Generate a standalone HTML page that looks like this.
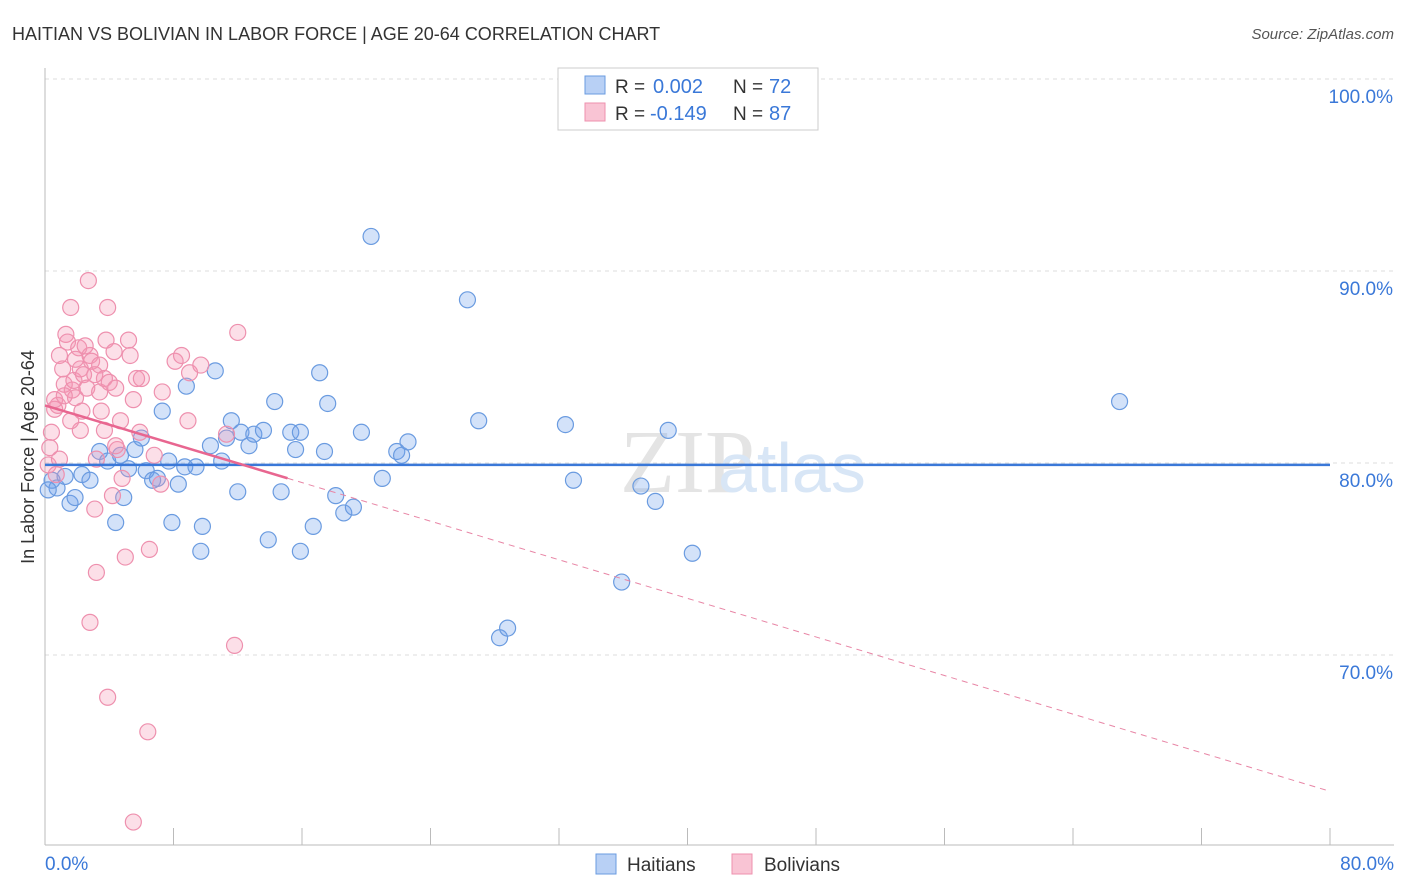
<!DOCTYPE html>
<html><head><meta charset="utf-8"><style>
body{margin:0;background:#fff;font-family:"Liberation Sans",sans-serif;}
svg{display:block}
</style></head><body>
<svg width="1406" height="892">
<text x="12" y="40" font-size="18" fill="#333">HAITIAN VS BOLIVIAN IN LABOR FORCE | AGE 20-64 CORRELATION CHART</text>
<text x="1394" y="39" font-size="15" fill="#555" font-style="italic" text-anchor="end">Source: ZipAtlas.com</text>
<text x="620" y="492" font-size="90" fill="#e4e4e4" font-family="Liberation Serif,serif">ZIP</text>
<text x="718" y="492" font-size="70" fill="#d8e6f6">atlas</text>
<g id="grid"></g>
<g id="axes"></g>
<g id="marks"></g>
<text transform="translate(34,457) rotate(-90)" font-size="18" fill="#333" text-anchor="middle">In Labor Force | Age 20-64</text>
<g>
<rect x="558" y="68" width="260" height="62" fill="#fff" stroke="#ccc"/>
<rect x="585" y="76" width="20" height="18" fill="#b8d0f5" stroke="#6a9be0"/>
<rect x="585" y="103" width="20" height="18" fill="#f9c4d4" stroke="#ee90ae"/>
<text x="615" y="93" font-size="19" fill="#333">R =</text>
<text x="653" y="93" font-size="20" fill="#3a78d8">0.002</text>
<text x="733" y="93" font-size="19" fill="#333">N =</text>
<text x="769" y="93" font-size="20" fill="#3a78d8">72</text>
<text x="615" y="120" font-size="19" fill="#333">R =</text>
<text x="650" y="120" font-size="20" fill="#3a78d8">-0.149</text>
<text x="733" y="120" font-size="19" fill="#333">N =</text>
<text x="769" y="120" font-size="20" fill="#3a78d8">87</text>
</g>
<g>
<rect x="596" y="854" width="20" height="20" fill="#b8d0f5" stroke="#6a9be0"/>
<text x="627" y="871" font-size="19" fill="#333">Haitians</text>
<rect x="732" y="854" width="20" height="20" fill="#f9c4d4" stroke="#ee90ae"/>
<text x="764" y="871" font-size="19" fill="#333">Bolivians</text>
</g>
</svg>
<script>
const xTicks=[0,8,16,24,32,40,48,56,64,72,80];
const yTicks=[70,80,90,100];
const yTickLabels=["70.0%","80.0%","90.0%","100.0%"];
const haitianX=[0.44,0.75,1.25,1.56,1.87,2.3,2.8,3.4,3.9,4.4,4.7,4.9,5.2,5.6,6.0,6.3,6.7,7.0,7.3,7.7,7.9,8.3,8.7,8.8,9.4,9.7,9.8,10.3,10.6,11.0,11.3,11.6,12.0,12.2,12.7,13.0,13.6,13.9,14.3,14.7,15.3,15.6,15.9,15.9,16.7,17.1,17.4,17.6,18.1,18.6,19.2,19.7,20.3,21.0,21.9,22.2,22.6,26.3,27.0,28.3,28.8,32.4,32.9,35.9,37.1,38.0,38.8,40.3,66.9,0.2];
const haitianY=[79.1,78.7,79.3,77.9,78.2,79.4,79.1,80.6,80.1,76.9,80.4,78.2,79.7,80.7,81.3,79.6,79.1,79.2,82.7,80.1,76.9,78.9,79.8,84.0,79.8,75.4,76.7,80.9,84.8,80.1,81.3,82.2,78.5,81.6,80.9,81.5,81.7,76.0,83.2,78.5,81.6,80.7,81.6,75.4,76.7,84.7,80.6,83.1,78.3,77.4,77.7,81.6,91.8,79.2,80.6,80.4,81.1,88.5,82.2,70.9,71.4,82.0,79.1,73.8,78.8,78.0,81.7,75.3,83.2,78.6];
const bolivianX=[0.2,0.3,0.4,0.6,0.7,0.8,0.9,1.1,1.2,1.3,1.4,1.6,1.7,1.8,1.9,2.1,2.2,2.3,2.4,2.6,2.7,2.8,2.9,3.1,3.2,3.2,3.4,3.4,3.5,3.7,3.8,3.9,4.0,4.2,4.3,4.4,4.5,4.7,4.8,5.0,5.2,5.3,5.5,5.7,5.9,6.0,6.4,6.5,6.8,7.2,7.3,8.1,8.5,8.9,9.0,9.7,12.0,11.8,3.9,5.5,2.8,2.2,1.6,0.9,0.6,1.2,1.9,2.5,3.1,3.7,4.4,11.3];
const bolivianY=[79.9,80.8,81.6,82.8,79.4,83.0,85.6,84.9,84.1,86.7,86.3,88.1,83.8,84.3,83.4,86.0,84.9,82.7,84.6,83.9,89.5,85.6,85.3,77.6,74.3,80.2,83.7,85.1,82.7,84.4,86.4,88.1,84.2,78.3,85.8,83.9,80.7,82.2,79.2,75.1,86.4,85.6,83.3,84.4,81.6,84.4,66.0,75.5,80.4,78.9,83.7,85.3,85.6,82.2,84.7,85.1,86.8,70.5,67.8,61.3,71.7,81.7,82.2,80.2,83.3,83.5,85.4,86.1,84.6,81.7,80.9,81.5];
const haitianTrend=[79.9,79.9];
const bolivianTrend=[83.0,62.9];
const bolivianSolidEnd=15.1;
const NS="http://www.w3.org/2000/svg";
const X=v=>45+v/80*1285, Y=v=>79+(100-v)*19.2;
function mk(t,a,p){const e=document.createElementNS(NS,t);for(const k in a)e.setAttribute(k,a[k]);p.appendChild(e);return e;}
const g=document.getElementById('grid'),ax=document.getElementById('axes'),m=document.getElementById('marks');
yTicks.forEach((t,i)=>{
 const l=mk('line',{x1:45,x2:1394,y1:Y(t),y2:Y(t),stroke:'#ddd','stroke-dasharray':'4,4'},g);
 
 
 const tx=mk('text',{x:1393,y:Y(t)+24,'font-size':19,fill:'#3a78d8','text-anchor':'end'},ax);
 tx.textContent=yTickLabels[i];
 
 
});
const xa=mk('line',{x1:45,x2:1394,y1:845,y2:845,stroke:'#bbb'},ax);


const ya=mk('line',{x1:45,x2:45,y1:68,y2:845,stroke:'#bbb'},ax);


xTicks.forEach(t=>{
 const l=mk('line',{x1:X(t),x2:X(t),y1:828,y2:845,stroke:'#bbb'},ax);
 
 
});
[[0,"0.0%","start",45],[80,"80.0%","end",1394]].forEach(d=>{
 const tx=mk('text',{x:d[3],y:870,'font-size':19,fill:'#3a78d8','text-anchor':d[2]},ax);
 tx.textContent=d[1];
 
 
});
haitianX.forEach((v,i)=>{
 const c=mk('circle',{cx:X(v),cy:Y(haitianY[i]),r:8,fill:'rgba(110,160,235,0.3)',stroke:'#6a9be0','stroke-width':1.2},m);
 
 
});
bolivianX.forEach((v,i)=>{
 const c=mk('circle',{cx:X(v),cy:Y(bolivianY[i]),r:8,fill:'rgba(245,150,180,0.3)',stroke:'#ee90ae','stroke-width':1.2},m);
 
 
});
const ht=mk('line',{x1:X(0),x2:X(80),y1:Y(haitianTrend[0]),y2:Y(haitianTrend[1]),stroke:'#3a78d8','stroke-width':2.5},m);


const bAt=x=>bolivianTrend[0]+(bolivianTrend[1]-bolivianTrend[0])*x/80;
const bs=mk('line',{x1:X(0),x2:X(bolivianSolidEnd),y1:Y(bAt(0)),y2:Y(bAt(bolivianSolidEnd)),stroke:'#e86690','stroke-width':2.5},m);


const bd=mk('line',{x1:X(bolivianSolidEnd),x2:X(80),y1:Y(bAt(bolivianSolidEnd)),y2:Y(bAt(80)),stroke:'#e886a6','stroke-width':1,'stroke-dasharray':'6,5'},m);


</script>
</body></html>
